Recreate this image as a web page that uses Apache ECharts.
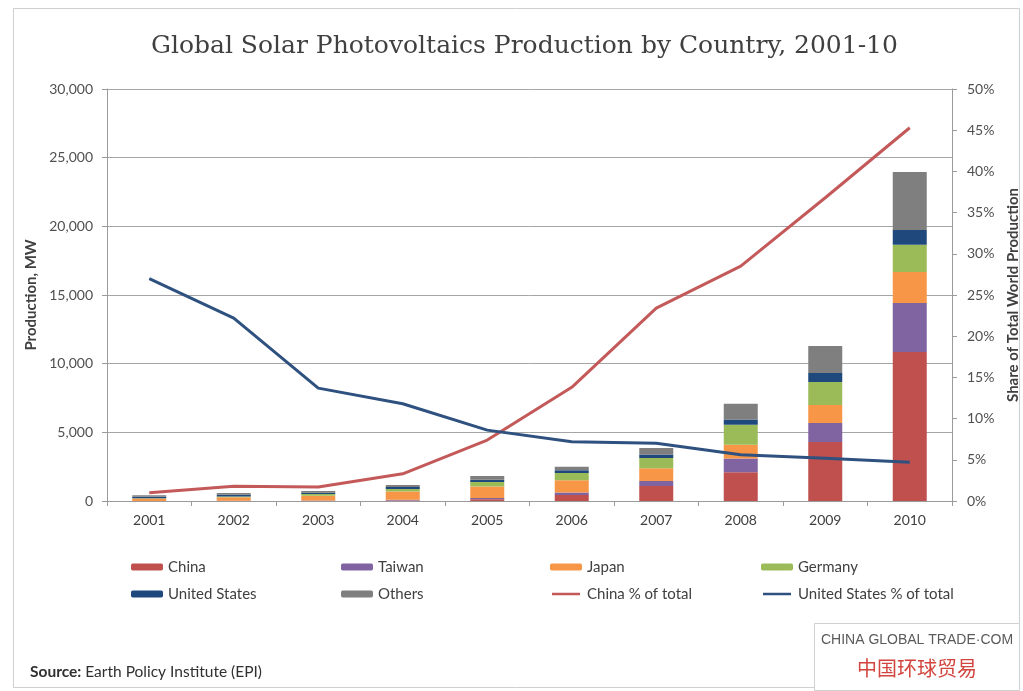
<!DOCTYPE html>
<html>
<head>
<meta charset="utf-8">
<script src="https://cdn.jsdelivr.net/npm/echarts@6/dist/echarts.min.js"></script>
<style>
html,body{margin:0;padding:0;background:#fff;}
#c{width:1023px;height:691px;}
</style>
</head>
<body>
<div id="c"></div>
<script>
const years = ['2001','2002','2003','2004','2005','2006','2007','2008','2009','2010'];
const china   = [3, 10, 12, 45, 130, 440, 1090, 2100, 4300, 10850];
const taiwan  = [5, 8, 17, 40, 90, 170, 370, 1000, 1385, 3570];
const japan   = [170, 250, 360, 600, 830, 900, 920, 1000, 1310, 2260];
const germany = [25, 58, 120, 190, 340, 530, 750, 1450, 1675, 1970];
const usa     = [105, 120, 100, 140, 150, 200, 260, 380, 655, 1090];
const others  = [110, 135, 120, 150, 280, 260, 470, 1150, 1970, 4220];
const chinaPct = [1.0, 1.8, 1.7, 3.3, 7.4, 13.8, 23.4, 28.5, 36.8, 45.3];
const usPct    = [27.0, 22.2, 13.7, 11.8, 8.6, 7.2, 7.0, 5.6, 5.2, 4.7];

const FONT = 'Lato';
const chart = echarts.init(document.getElementById('c'), null, {renderer: 'canvas'});

function bar(name, data, color) {
  return {name, type: 'bar', stack: 'prod', data, barWidth: 34,
    itemStyle: {color}, emphasis: {disabled: true}};
}
const LINE_ICON = 'path://M0,0H0.01V0.01H0Z M0,2.6H32V5.4H0Z M0,7.99H0.01V8H0Z';
const legendText = {fontFamily: FONT, fontSize: 15, color: '#404040', lineHeight: 18};
function legendCol(left, items) {
  return {left, top: 558, orient: 'vertical', itemGap: 9, itemWidth: 32, itemHeight: 7,
    textStyle: legendText, selectedMode: false, padding: 0, data: items};
}

chart.setOption({
  backgroundColor: '#fff',
  animation: false,
  title: {
    text: 'Global Solar Photovoltaics Production by Country, 2001-10',
    left: 146, top: 29,
    textStyle: {fontFamily: 'DejaVu Serif', fontSize: 25, fontWeight: 'normal', color: '#404040'}
  },
  grid: {left: 107, right: 71, top: 89, bottom: 190, containLabel: false, outerBoundsMode: 'none'},
  legend: [
    legendCol(131, ['China', 'United States']),
    legendCol(341, ['Taiwan', 'Others']),
    legendCol(550, ['Japan', {name: 'China % of total', icon: LINE_ICON}]),
    legendCol(761, ['Germany', {name: 'United States % of total', icon: LINE_ICON}])
  ],
  xAxis: {
    type: 'category', data: years, boundaryGap: true,
    axisLine: {lineStyle: {color: '#9a9a9a'}},
    axisTick: {show: true, length: 5, lineStyle: {color: '#9a9a9a'}},
    axisLabel: {fontFamily: FONT, fontSize: 14, color: '#404040', margin: 12}
  },
  yAxis: [
    {
      type: 'value', min: 0, max: 30000, interval: 5000,
      name: 'Production, MW', nameLocation: 'middle', nameGap: 66, nameRotate: 90,
      nameTextStyle: {fontFamily: FONT, fontSize: 15, fontWeight: 'bold', color: '#404040'},
      axisLine: {show: true, lineStyle: {color: '#9a9a9a'}},
      axisTick: {show: true, length: 5, lineStyle: {color: '#9a9a9a'}},
      axisLabel: {fontFamily: FONT, fontSize: 14, color: '#505050', margin: 14,
        formatter: v => v.toLocaleString('en-US')},
      splitLine: {show: true, lineStyle: {color: '#a6a6a6', width: 1}}
    },
    {
      type: 'value', min: 0, max: 50, interval: 5, position: 'right',
      name: 'Share of Total World Production', nameLocation: 'middle', nameGap: 52, nameRotate: 90,
      nameTextStyle: {fontFamily: FONT, fontSize: 15, fontWeight: 'bold', color: '#404040'},
      axisLine: {show: true, lineStyle: {color: '#9a9a9a'}},
      axisTick: {show: true, length: 5, lineStyle: {color: '#9a9a9a'}},
      axisLabel: {fontFamily: FONT, fontSize: 14, color: '#505050', margin: 15, formatter: '{value}%'},
      splitLine: {show: false}
    }
  ],
  series: [
    bar('China', china, '#C0504D'),
    bar('Taiwan', taiwan, '#8064A2'),
    bar('Japan', japan, '#F79646'),
    bar('Germany', germany, '#9BBB59'),
    bar('United States', usa, '#1F497D'),
    bar('Others', others, '#7F7F7F'),
    {name: 'China % of total', type: 'line', yAxisIndex: 1, data: chinaPct,
      symbol: 'none', z: 5, lineStyle: {color: '#C4595A', width: 3},
      itemStyle: {color: '#C4595A'}, emphasis: {disabled: true}},
    {name: 'United States % of total', type: 'line', yAxisIndex: 1, data: usPct,
      symbol: 'none', z: 5, lineStyle: {color: '#2E5180', width: 3},
      itemStyle: {color: '#2E5180'}, emphasis: {disabled: true}}
  ],
  graphic: [
    {type: 'rect', silent: true, z: -10,
      shape: {x: 13.5, y: 8.5, width: 1006, height: 679},
      style: {fill: null, stroke: '#cfcfcf', lineWidth: 1}},
    {type: 'text', left: 30, top: 664,
      style: {
        text: '{b|Source:} Earth Policy Institute (EPI)',
        rich: {b: {fontFamily: FONT, fontSize: 15.5, fontWeight: 'bold', fill: '#303030'}},
        fontFamily: FONT, fontSize: 15.5, fill: '#303030'
      }},
    {type: 'rect', silent: true,
      shape: {x: 814.5, y: 623.5, width: 205, height: 67},
      style: {fill: '#fff', stroke: '#d0d0d0', lineWidth: 1}},
    {type: 'text', x: 917, y: 640,
      style: {text: 'CHINA GLOBAL TRADE·COM', fontFamily: 'Liberation Sans', fontSize: 14,
        fill: '#5a5a5a', align: 'center', verticalAlign: 'middle'}},
    {type: 'text', x: 917, y: 668,
      style: {text: '中国环球贸易', fontFamily: 'Noto Sans CJK SC', fontSize: 20,
        fill: '#D2463F', align: 'center', verticalAlign: 'middle'}}
  ]
});
</script>
</body>
</html>
